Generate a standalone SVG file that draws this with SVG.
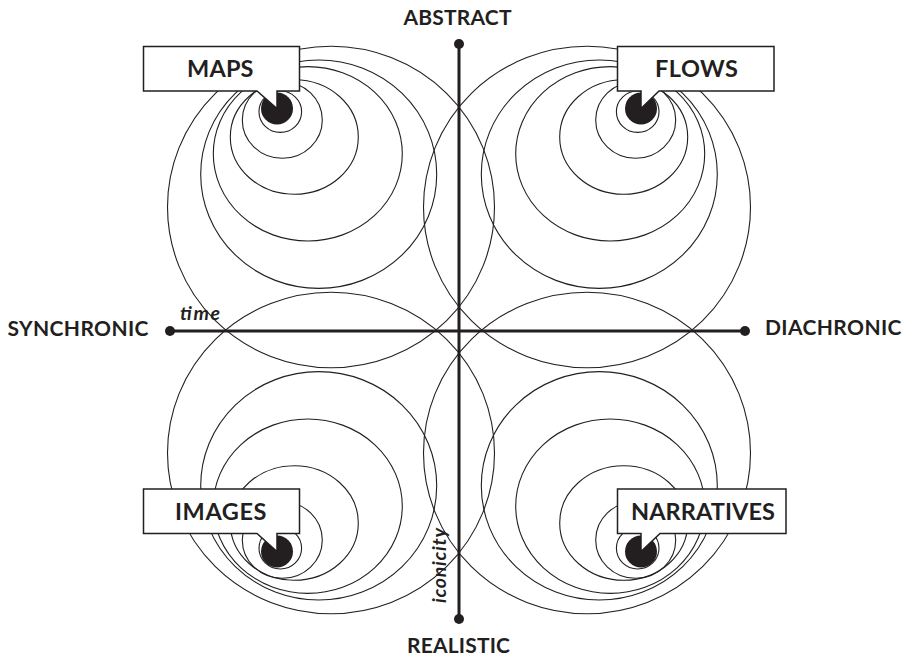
<svg xmlns="http://www.w3.org/2000/svg" xmlns:xlink="http://www.w3.org/1999/xlink" width="914" height="658" viewBox="0 0 914 658">
<style>
.ring{fill:none;stroke:#231f20;stroke-width:1.1}
.blob{fill:#231f20}
.callout{fill:#fff;stroke:#231f20;stroke-width:1.5;stroke-linejoin:miter}
.lbl{font-family:"Lato","Liberation Sans",sans-serif;font-weight:700;font-size:23.5px;fill:#231f20}
.axl{font-family:"Lato","Liberation Sans",sans-serif;font-weight:700;font-size:21px;fill:#231f20}
.it{font-family:"Lato","Liberation Sans",sans-serif;font-weight:700;font-style:italic;font-size:19.5px;fill:#231f20}
.axis{stroke:#231f20;stroke-width:3;fill:none}
.dot{fill:#231f20}
</style>
<defs>
<g id="rings">
<ellipse class="ring" cx="280.3" cy="111.7" rx="21.3" ry="20.7"/>
<ellipse class="ring" cx="282.3" cy="120" rx="40" ry="38.3"/>
<ellipse class="ring" cx="294.3" cy="137" rx="64" ry="57.3"/>
<ellipse class="ring" cx="307.8" cy="153.8" rx="94.5" ry="87.2"/>
<ellipse class="ring" cx="318.7" cy="174.2" rx="118" ry="114.2"/>
<ellipse class="ring" cx="331" cy="207" rx="163.5" ry="160.7"/>
</g>
</defs>
<rect width="914" height="658" fill="#fff"/>
<g id="rings-all">
<use xlink:href="#rings" href="#rings"/>
<use xlink:href="#rings" href="#rings" transform="matrix(-1 0 0 1 918 0)"/>
<use xlink:href="#rings" href="#rings" transform="matrix(1 0 0 -1 0 660)"/>
<use xlink:href="#rings" href="#rings" transform="matrix(-1 0 0 -1 918 660)"/>
</g>
<g id="connectors">
<line class="axis" x1="459" y1="44" x2="459" y2="619"/>
<line class="axis" x1="170" y1="331" x2="745" y2="331"/>
<circle class="dot" cx="459" cy="44" r="5"/>
<circle class="dot" cx="459" cy="619" r="5"/>
<circle class="dot" cx="170" cy="331" r="5"/>
<circle class="dot" cx="745" cy="331" r="5"/>
</g>
<g id="axis-labels">
<text class="axl" x="403.5" y="25" textLength="108" lengthAdjust="spacing">ABSTRACT</text>
<text class="axl" x="407" y="653" textLength="103" lengthAdjust="spacing">REALISTIC</text>
<text class="axl" x="7.5" y="335.5" textLength="141" lengthAdjust="spacing">SYNCHRONIC</text>
<text class="axl" x="765" y="335" textLength="136.5" lengthAdjust="spacing">DIACHRONIC</text>
<text class="it" x="180" y="320" textLength="40" lengthAdjust="spacing">time</text>
<text class="it" transform="translate(446,603) rotate(-90)" textLength="75" lengthAdjust="spacing">iconicity</text>
</g>
<g id="maps">
<circle class="blob" cx="277" cy="108.5" r="16"/>
<path class="callout" d="M143.5,46.5 H299.5 V91 H277 V108.5 L257,91 H143.5 Z"/>
<text class="lbl" x="187" y="77" textLength="66.5" lengthAdjust="spacing">MAPS</text>
</g>
<g id="flows">
<circle class="blob" cx="641" cy="108.5" r="16"/>
<path class="callout" d="M617.5,46.5 H774 V91 H659 L641,108.5 V91 H617.5 Z"/>
<text class="lbl" x="655" y="77" textLength="83" lengthAdjust="spacing">FLOWS</text>
</g>
<g id="images">
<circle class="blob" cx="277" cy="551.5" r="16"/>
<path class="callout" d="M143.5,489 H299.5 V533.5 H277 V551.5 L257,533.5 H143.5 Z"/>
<text class="lbl" x="175" y="519.5" textLength="91.5" lengthAdjust="spacing">IMAGES</text>
</g>
<g id="narratives">
<circle class="blob" cx="641" cy="551.5" r="16"/>
<path class="callout" d="M617.5,489 H786 V533.5 H660 L641,551.5 V533.5 H617.5 Z"/>
<text class="lbl" x="631" y="519.5" textLength="144" lengthAdjust="spacing">NARRATIVES</text>
</g>
</svg>
